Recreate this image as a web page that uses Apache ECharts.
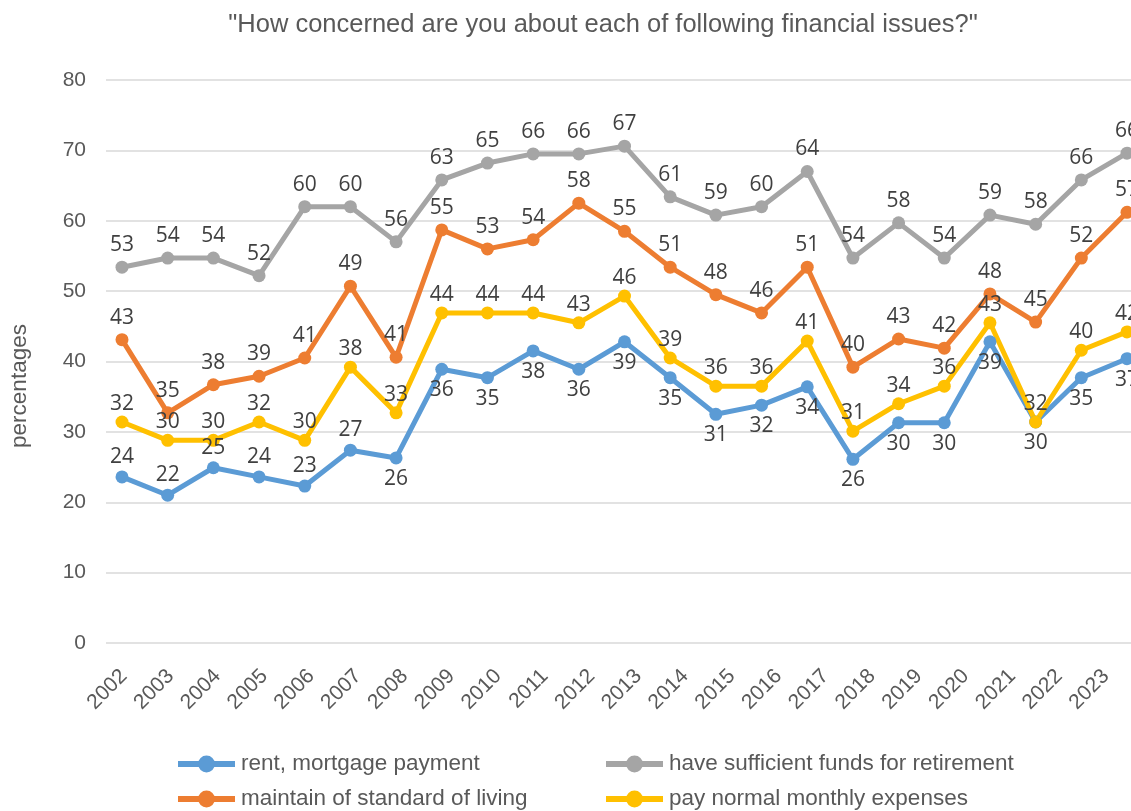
<!DOCTYPE html>
<html>
<head>
<meta charset="utf-8">
<title>financial issues</title>
<script src="https://cdn.jsdelivr.net/npm/echarts@6/dist/echarts.min.js"></script>
<style>
  html, body { margin: 0; padding: 0; background: #fff; }
  #main { width: 1131px; height: 811px; }
</style>
</head>
<body>
<div id="main"></div>
<script>
// one slot per plotted point (the last one is cut off at the right edge)
const pointYears = ['2002', '2003', '2004', '2005', '2006', '2007', '2008', '2009', '2010', '2011', '2012',
  '2013', '2014', '2015', '2016', '2017', '2018', '2019', '2020', '2021', '2022', '2023', '2024']
// year labels printed under the axis
const tickYears = ['2002', '2003', '2004', '2005', '2006', '2007', '2008', '2009', '2010', '2011', '2012',
  '2013', '2014', '2015', '2016', '2017', '2018', '2019', '2020', '2021', '2022', '2023']
const yTicks = [0, 10, 20, 30, 40, 50, 60, 70, 80]

// plotted values (read from the point heights)
const rentValues = [23.6, 21.0, 24.9, 23.6, 22.3, 27.4, 26.3, 38.9, 37.7, 41.5, 38.9, 42.8,
  37.7, 32.5, 33.8, 36.4, 26.1, 31.3, 31.3, 42.8, 31.4, 37.7, 40.4]
const retireValues = [53.4, 54.7, 54.7, 52.2, 62.0, 62.0, 57.0, 65.8, 68.2, 69.5, 69.5, 70.6,
  63.4, 60.8, 62.0, 67.0, 54.7, 59.7, 54.7, 60.8, 59.5, 65.8, 69.6]
const livingValues = [43.1, 32.7, 36.7, 37.9, 40.5, 50.7, 40.6, 58.7, 56.0, 57.3, 62.5, 58.5,
  53.4, 49.5, 46.9, 53.4, 39.2, 43.2, 41.9, 49.6, 45.6, 54.7, 61.2]
const expensesValues = [31.4, 28.8, 28.8, 31.4, 28.8, 39.2, 32.7, 46.9, 46.9, 46.9, 45.5, 49.3,
  40.5, 36.5, 36.5, 42.9, 30.1, 34.0, 36.5, 45.5, 31.4, 41.6, 44.2]

// data labels as printed on the chart
const rentLabels = [24, 22, 25, 24, 23, 27, 26, 36, 35, 38, 36, 39, 35, 31, 32, 34, 26, 30, 30, 39, 30, 35, 37]
const retireLabels = [53, 54, 54, 52, 60, 60, 56, 63, 65, 66, 66, 67, 61, 59, 60, 64, 54, 58, 54, 59, 58, 66, 66]
const livingLabels = [43, 35, 38, 39, 41, 49, 41, 55, 53, 54, 58, 55, 51, 48, 46, 51, 40, 43, 42, 48, 45, 52, 57]
const expensesLabels = [32, 30, 30, 32, 30, 38, 33, 44, 44, 44, 43, 46, 39, 36, 36, 41, 31, 34, 36, 43, 32, 40, 42]

const seriesNames = ['rent, mortgage payment', 'have sufficient funds for retirement',
  'maintain of standard of living', 'pay normal monthly expenses']

const textGrey = '#595959'
const labelFont = '"Open Sans", "Noto Sans", sans-serif'
const axisFont = '"Liberation Sans", Arial, sans-serif'

const lineSeries = (name, color, values, labels, distance) => ({
  name,
  type: 'line',
  xAxisIndex: 0,
  yAxisIndex: 0,
  symbol: 'circle',
  symbolSize: 13,
  clip: false,
  color,
  lineStyle: { color, width: 5 },
  itemStyle: { color },
  label: {
    show: true,
    position: 'top',
    distance,
    color: '#404040',
    fontSize: 21,
    fontFamily: labelFont,
    formatter: (p) => labels[p.dataIndex]
  },
  emphasis: { disabled: true },
  data: values
})

// one legend box per item so the two columns line up like the original
const legendItem = (name, left, top) => ({
  left,
  top,
  itemWidth: 57,
  itemHeight: 21,
  data: [name],
  lineStyle: { width: 6 },
  textStyle: { color: textGrey, fontSize: 22.5, fontFamily: axisFont, lineHeight: 26, padding: [0, 0, 0, 1] }
})

const myChart = echarts.init(document.getElementById('main'))

// blue labels sit under the points from 2008 on
const rentSeries = lineSeries(seriesNames[0], '#5B9BD5', rentValues, rentLabels, 3)
rentSeries.data = rentValues.map((v, i) => (i < 6 ? v : { value: v, label: { position: 'bottom', distance: 4 } }))

myChart.setOption({
  animation: false,
  title: {
    text: '"How concerned are you about each of following financial issues?"',
    left: 598,
    top: 7,
    textAlign: 'center',
    textStyle: { color: textGrey, fontSize: 25.5, fontWeight: 'normal', fontFamily: axisFont }
  },
  graphic: [{
    type: 'text',
    x: 20,
    y: 386,
    rotation: Math.PI / 2,
    style: {
      text: 'percentages',
      fill: textGrey,
      fontSize: 22.5,
      fontFamily: axisFont,
      align: 'center',
      verticalAlign: 'middle'
    }
  }],
  legend: [
    legendItem(seriesNames[0], 170, 746),
    legendItem(seriesNames[2], 170, 781),
    legendItem(seriesNames[1], 598, 746),
    legendItem(seriesNames[3], 598, 781)
  ],
  grid: [
    { left: 122, right: 4, top: 80, height: 563 },   // points
    { left: 106, right: 0, top: 80, height: 563 },   // gridlines + value labels
    { left: 124, right: 25, top: 80, height: 563 }   // year labels
  ],
  xAxis: [
    {
      gridIndex: 0,
      type: 'category',
      boundaryGap: false,
      data: pointYears,
      show: false
    },
    {
      gridIndex: 1,
      type: 'value',
      show: false
    },
    {
      gridIndex: 2,
      type: 'category',
      boundaryGap: false,
      data: tickYears,
      axisLine: { show: false },
      axisTick: { show: false },
      axisLabel: {
        rotate: 45,
        margin: 30,
        interval: 0,
        color: textGrey,
        fontSize: 21,
        fontFamily: axisFont
      }
    }
  ],
  yAxis: [
    { gridIndex: 0, type: 'value', min: 0, max: 80, interval: 10, show: false },
    {
      gridIndex: 1,
      type: 'value',
      min: yTicks[0],
      max: yTicks[yTicks.length - 1],
      interval: 10,
      axisLine: { show: false },
      axisTick: { show: false },
      axisLabel: { margin: 20, color: textGrey, fontSize: 21, fontFamily: axisFont },
      splitLine: { show: true, lineStyle: { color: '#d9d9d9', width: 1.5 } }
    },
    { gridIndex: 2, type: 'value', min: 0, max: 80, interval: 10, show: false }
  ],
  series: [
    rentSeries,
    lineSeries(seriesNames[1], '#A5A5A5', retireValues, retireLabels, 5),
    lineSeries(seriesNames[2], '#ED7D31', livingValues, livingLabels, 5),
    lineSeries(seriesNames[3], '#FFC000', expensesValues, expensesLabels, 1)
  ]
})
window.addEventListener('resize', () => {
  myChart.resize()
})
</script>
</body>
</html>
